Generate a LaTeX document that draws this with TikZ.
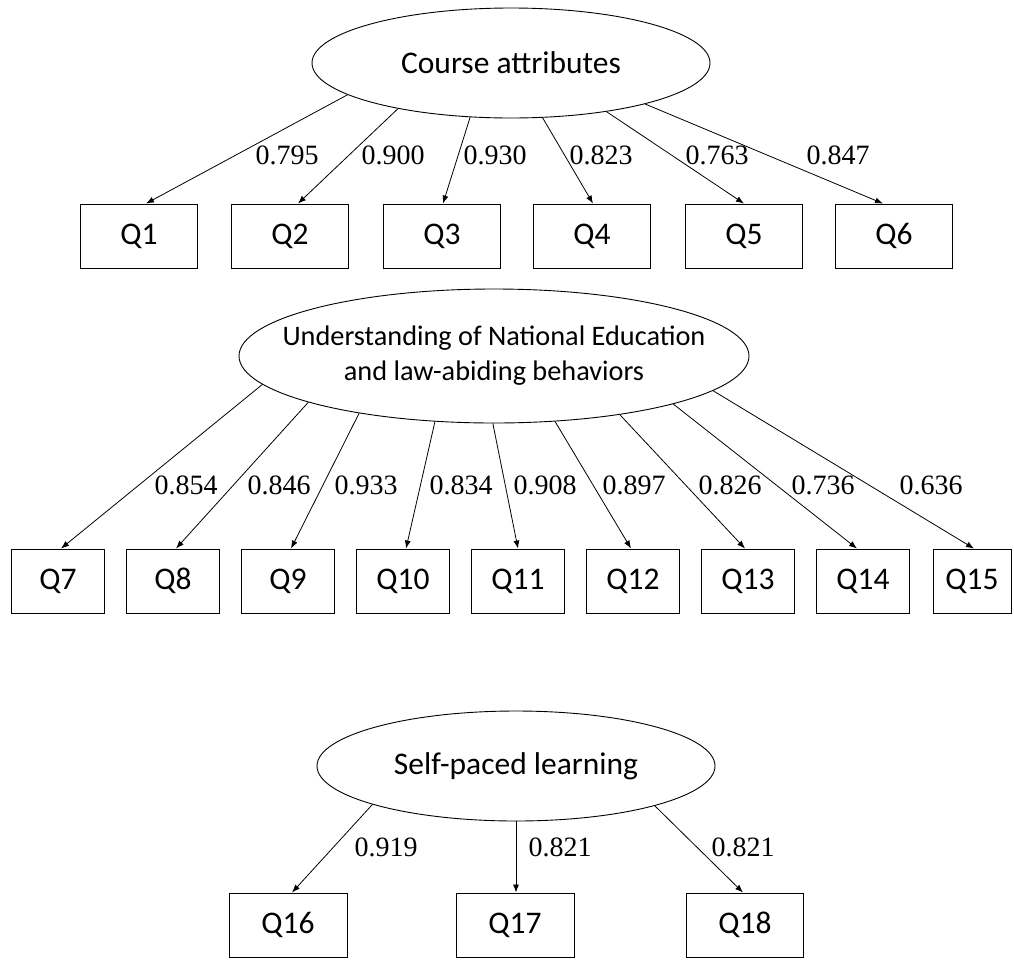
\documentclass[tikz,border=0pt]{standalone}
\usepackage{fontspec}
\setmainfont{Carlito}
\newfontfamily\tms{Liberation Serif}
\usetikzlibrary{shapes.geometric,arrows.meta}
\begin{document}
\begin{tikzpicture}[x=1pt,y=-1pt,
  lat/.style={draw,ellipse,line width=0.9pt,inner sep=0pt,align=center,font=\fontsize{31.5}{37}\selectfont},
  obs/.style={draw,rectangle,line width=0.9pt,inner sep=0pt,minimum height=64pt,font=\fontsize{31.5}{37}\selectfont},
  lnk/.style={line width=0.8pt,-{Latex[length=8pt,width=6pt]}},
  lab/.style={font=\tms\fontsize{28}{32}\selectfont,inner sep=0pt}]
\useasboundingbox (0,0) rectangle (1014,959);
\fill[white] (0,0) rectangle (1014,959);
% top
\node[lat,minimum width=398pt,minimum height=110pt] (ca) at (511,63) {Course attributes};
\foreach \n/\x in {1/139,2/290,3/442,4/592,5/744,6/894}
  \node[obs,minimum width=117pt] (q\n) at (\x,236) {Q\n};
\draw[lnk] (ca.191.5) -- ([xshift=7pt]q1.north);
\draw[lnk] (ca.202.9) -- ([xshift=8pt]q2.north);
\draw[lnk] (ca.233.5) -- ([xshift=1pt]q3.north);
\draw[lnk] (ca.300.7) -- ([xshift=1pt]q4.north);
\draw[lnk] (ca.333.2) -- (q5.north);
\draw[lnk] (ca.343.9) -- ([xshift=-11pt]q6.north);
\node[lab] (l1) at (287,155) {0.795};
\node[lab] (l2) at (393,155) {0.900};
\node[lab] (l3) at (495,155) {0.930};
\node[lab] (l4) at (601,155) {0.823};
\node[lab] (l5) at (717,155) {0.763};
\node[lab] (l6) at (838,155) {0.847};
% middle
\node[lat,minimum width=510pt,minimum height=134pt,inner xsep=-40pt,font=\fontsize{28.3}{35}\selectfont] (ne) at (494,356)
  {Understanding of National Education\\and law-abiding behaviors};
\foreach \n/\x in {7/58,8/173,9/288,10/403,11/518,12/633,13/748,14/863}
  \node[obs,minimum width=93pt] (q\n) at (\x,581) {Q\n};
\node[obs,minimum width=78pt] (q15) at (972,581) {Q15};
\draw[lnk] (ne.187.4) -- ([xshift=3pt]q7.north);
\draw[lnk] (ne.194.9) -- ([xshift=3pt]q8.north);
\draw[lnk] (ne.203.9) -- ([xshift=3pt]q9.north);
\draw[lnk] (ne.228.6) -- ([xshift=3pt]q10.north);
\draw[lnk] (ne.269) -- (q11.north);
\draw[lnk] (ne.313.6) -- ([xshift=-2pt]q12.north);
\draw[lnk] (ne.335.3) -- ([xshift=-3pt]q13.north);
\draw[lnk] (ne.345.2) -- ([xshift=-6pt]q14.north);
\draw[lnk] (ne.351.9) -- ([xshift=2pt]q15.north);
\node[lab] (l7) at (186,485) {0.854};
\node[lab] (l8) at (279,485) {0.846};
\node[lab] (l9) at (366,485) {0.933};
\node[lab] (l10) at (461,485) {0.834};
\node[lab] (l11) at (545,485) {0.908};
\node[lab] (l12) at (634,485) {0.897};
\node[lab] (l13) at (730,485) {0.826};
\node[lab] (l14) at (823,485) {0.736};
\node[lab] (l15) at (931,485) {0.636};
% bottom
\node[lat,minimum width=398pt,minimum height=110pt] (sp) at (516,766) {Self-paced learning};
\node[obs,minimum width=118pt] (q16) at (288,925) {Q16};
\node[obs,minimum width=118pt] (q17) at (515,925) {Q17};
\node[obs,minimum width=117pt] (q18) at (745,925) {Q18};
\draw[lnk] (sp.195.6) -- ([xshift=4pt]q16.north);
\draw[lnk] (sp.270) -- ([xshift=1pt]q17.north);
\draw[lnk] (sp.344.7) -- ([xshift=-2pt]q18.north);
\node[lab] (l16) at (386,847) {0.919};
\node[lab] (l17) at (560,847) {0.821};
\node[lab] (l18) at (743,847) {0.821};
\end{tikzpicture}
\end{document}
